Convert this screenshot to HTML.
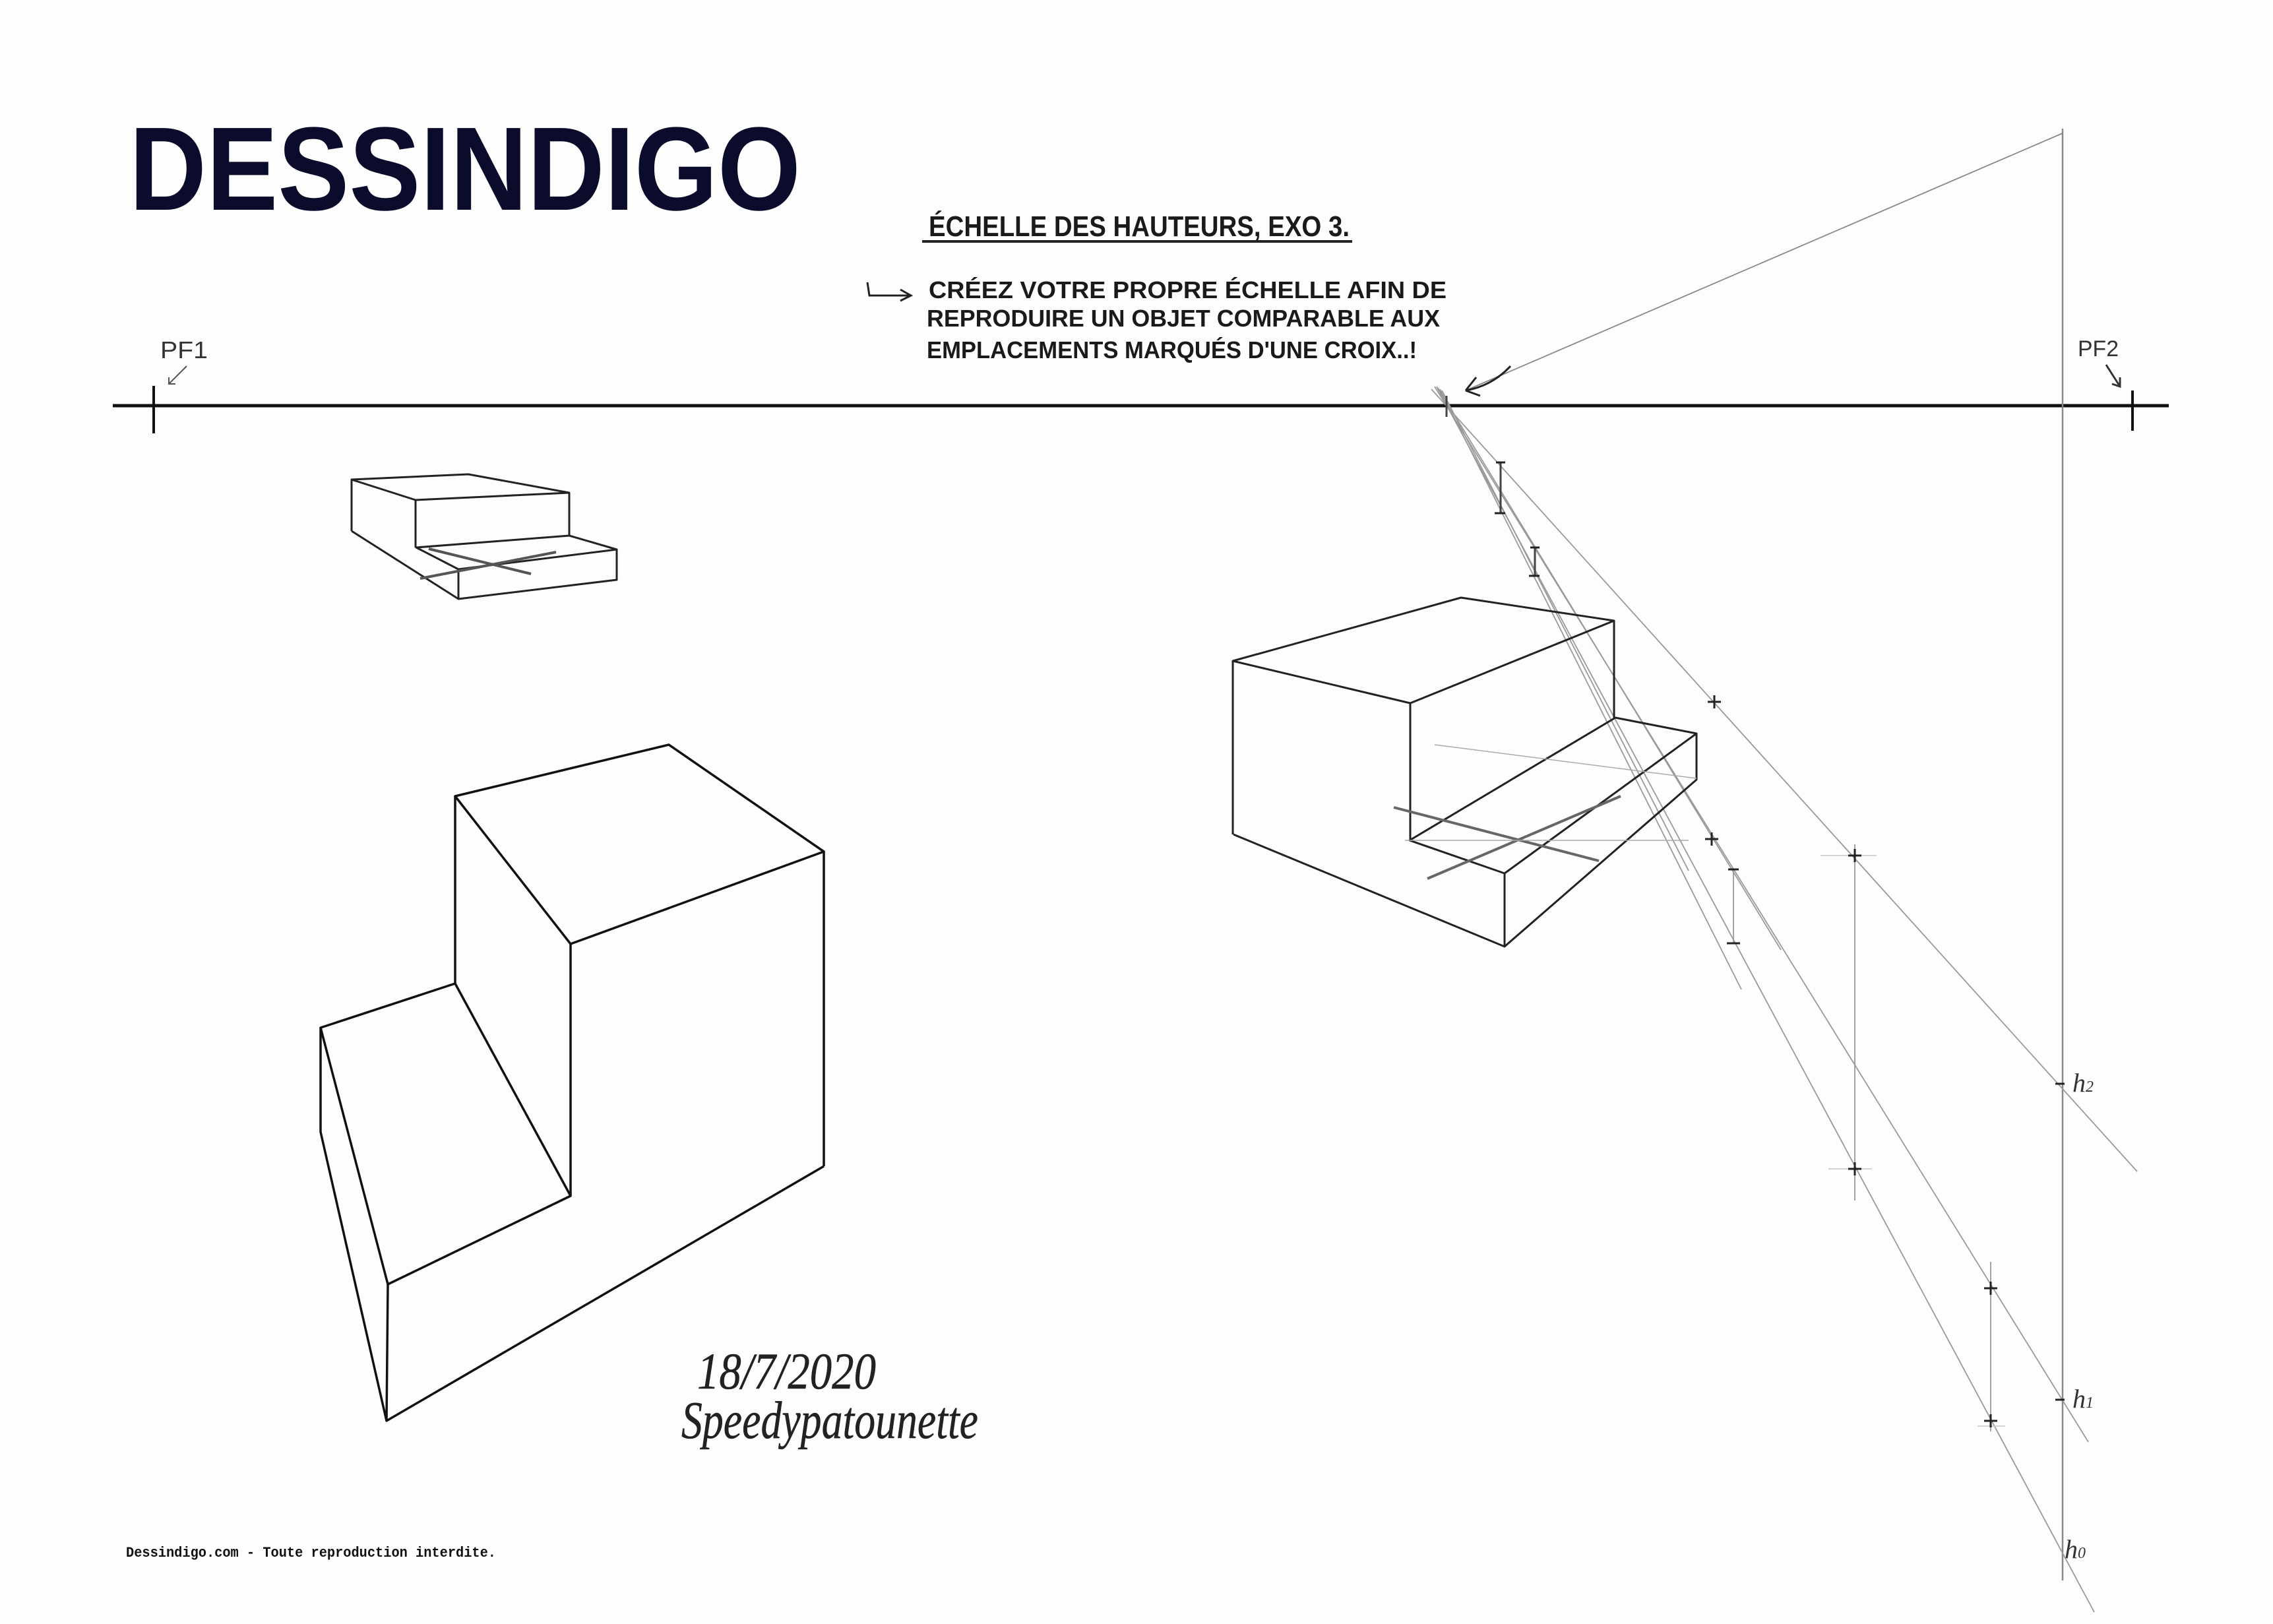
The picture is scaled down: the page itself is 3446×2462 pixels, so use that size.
<!DOCTYPE html>
<html><head><meta charset="utf-8"><style>
html,body{margin:0;padding:0;background:#fdfdfd;}
svg{display:block;}
.h{font-family:"Liberation Sans",sans-serif;fill:#1a1a1a;font-weight:bold;}
</style></head><body>
<svg width="3446" height="2462" viewBox="0 0 3446 2462" xmlns="http://www.w3.org/2000/svg">
<rect width="3446" height="2462" fill="#fdfdfd"/>
<text x="196" y="318" font-family="Liberation Sans, sans-serif" font-weight="bold" font-size="180" fill="#0b0b2b" textLength="1018" lengthAdjust="spacingAndGlyphs">DESSINDIGO</text>

<text class="h" x="1408" y="358" font-size="44" textLength="638" lengthAdjust="spacingAndGlyphs">ÉCHELLE DES HAUTEURS, EXO 3.</text>
<line x1="1398" y1="366" x2="2050" y2="366" stroke="#222" stroke-width="4"/>
<path d="M1315 428 L1318 448 L1380 448 M1365 439 L1381 448 L1365 456" fill="none" stroke="#222" stroke-width="3"/>
<text class="h" x="1408" y="452" font-size="36" textLength="785" lengthAdjust="spacingAndGlyphs">CRÉEZ VOTRE PROPRE ÉCHELLE AFIN DE</text>
<text class="h" x="1405" y="495" font-size="36" textLength="778" lengthAdjust="spacingAndGlyphs">REPRODUIRE UN OBJET COMPARABLE AUX</text>
<text class="h" x="1405" y="543" font-size="36" textLength="743" lengthAdjust="spacingAndGlyphs">EMPLACEMENTS MARQUÉS D'UNE CROIX..!</text>

<text x="243" y="543" font-family="Liberation Sans, sans-serif" font-size="36" textLength="72" lengthAdjust="spacingAndGlyphs" fill="#333">PF1</text>
<path d="M283 555 L256 582 M256 572 L256 582 L266 582" fill="none" stroke="#555" stroke-width="2"/>
<text x="3150" y="540" font-family="Liberation Sans, sans-serif" font-size="34" textLength="62" lengthAdjust="spacingAndGlyphs" fill="#333">PF2</text>
<path d="M3193 553 L3214 586 M3214 572 L3214 586 L3202 582" fill="none" stroke="#333" stroke-width="3"/>

<line x1="171" y1="615" x2="3288" y2="615" stroke="#111" stroke-width="5"/>
<line x1="233" y1="585" x2="233" y2="657" stroke="#111" stroke-width="4"/>
<line x1="3233" y1="592" x2="3233" y2="653" stroke="#111" stroke-width="4"/>

<line x1="3127" y1="195" x2="3127" y2="2396" stroke="#888" stroke-width="2.5"/>
<line x1="3127" y1="202" x2="2222" y2="592" stroke="#888" stroke-width="1.8"/>
<path d="M2290 555 Q2262 585 2222 592 M2222 592 L2238 572 M2222 592 L2244 600" fill="none" stroke="#222" stroke-width="3"/>

<g stroke="#999" stroke-width="1.8" fill="none">
<line x1="2170" y1="590" x2="3240" y2="1776"/>
<line x1="2175" y1="586" x2="3166" y2="2186"/>
<line x1="2178" y1="586" x2="3175" y2="2444"/>
<line x1="2180" y1="588" x2="2700" y2="1440"/>
<line x1="2183" y1="590" x2="2640" y2="1500"/>
<line x1="2186" y1="592" x2="2560" y2="1320"/>
<line x1="2193" y1="600" x2="2193" y2="632" stroke="#444" stroke-width="3"/>
<line x1="2812" y1="1280" x2="2812" y2="1820"/>
<line x1="3018" y1="1913" x2="3018" y2="2170"/>
<line x1="2628" y1="1317" x2="2628" y2="1430"/>
<line x1="2275" y1="701" x2="2275" y2="778" stroke="#444" stroke-width="3"/>
<line x1="2327" y1="830" x2="2327" y2="873" stroke="#444" stroke-width="3"/>
<line x1="2760" y1="1297" x2="2845" y2="1297" stroke="#ccc"/>
<line x1="2772" y1="1772" x2="2838" y2="1772" stroke="#ccc"/>
<line x1="2998" y1="2162" x2="3040" y2="2162" stroke="#ccc"/>
</g>
<g stroke="#222" stroke-width="3">
<path d="M2802 1297h20M2812 1287v20"/>
<path d="M2802 1772h20M2812 1762v20"/>
<path d="M3008 1953h20M3018 1943v20"/>
<path d="M3008 2154h20M3018 2144v20"/>
<path d="M2618 1430h20"/>
<path d="M2620 1318h16"/>
<path d="M2585 1272h20M2595 1262v20"/>
<path d="M2589 1064h20M2599 1054v20"/>
<path d="M2268 701h14M2266 778h16"/>
<path d="M2320 830h14M2318 873h16"/>
<path d="M3116 1643h14M3116 2122h14"/>
</g>
<text x="3142" y="1655" font-family="Liberation Serif, serif" font-style="italic" font-size="40" fill="#333">h<tspan font-size="24">2</tspan></text>
<text x="3142" y="2134" font-family="Liberation Serif, serif" font-style="italic" font-size="40" fill="#333">h<tspan font-size="24">1</tspan></text>
<text x="3130" y="2362" font-family="Liberation Serif, serif" font-style="italic" font-size="40" fill="#333">h<tspan font-size="24">0</tspan></text>

<g stroke="#222" stroke-width="3" fill="none" stroke-linejoin="round">
<path d="M533 727 L710 719 L863 747 L630 758 Z"/>
<path d="M533 727 V805 M630 758 V830 M863 747 V812"/>
<path d="M631 830 L863 812 L935 833 L695 863 Z"/>
<path d="M935 833 V879 L695 908 V863 M533 805 L695 908"/>
</g>
<g stroke="#555" stroke-width="4"><line x1="650" y1="832" x2="805" y2="870"/><line x1="637" y1="877" x2="843" y2="837"/></g>

<g stroke="#222" stroke-width="3" fill="none" stroke-linejoin="round">
<path d="M1869 1002 L2215 906 L2447 941 L2138 1066 Z"/>
<path d="M1869 1002 V1265 M2138 1066 V1274 M2447 941 V1088"/>
<path d="M2137 1274 L2449 1088 L2572 1112 L2281 1324 Z"/>
<path d="M2572 1112 V1182 L2281 1435 V1324 M1870 1265 L2281 1435"/>
</g>
<g stroke="#666" stroke-width="4"><line x1="2113" y1="1224" x2="2424" y2="1305"/><line x1="2164" y1="1332" x2="2457" y2="1207"/></g>
<g stroke="#aaa" stroke-width="1.5"><line x1="2175" y1="1129" x2="2572" y2="1180"/><line x1="2130" y1="1274" x2="2560" y2="1274"/></g>

<g stroke="#111" stroke-width="3.5" fill="none" stroke-linejoin="round">
<path d="M690 1207 L1014 1129 L1249 1291 L865 1431 Z"/>
<path d="M690 1207 V1491 M865 1431 V1813 M1249 1291 V1768"/>
<path d="M690 1491 L486 1558 L588 1947 L865 1813 Z"/>
<path d="M486 1558 V1716 L586 2154 L588 1947 M586 2154 L1249 1768"/>
</g>

<text x="1057" y="2105" font-family="Liberation Serif, serif" font-style="italic" font-size="78" fill="#222" stroke="#222" stroke-width="0.5" textLength="271" lengthAdjust="spacingAndGlyphs">18/7/2020</text>
<text x="1033" y="2180" font-family="Liberation Serif, serif" font-style="italic" font-size="80" fill="#222" stroke="#222" stroke-width="0.5" textLength="450" lengthAdjust="spacingAndGlyphs">Speedypatounette</text>

<text x="191" y="2360" font-family="Liberation Mono, monospace" font-weight="bold" font-size="22" fill="#111" textLength="561" lengthAdjust="spacingAndGlyphs">Dessindigo.com - Toute reproduction interdite.</text>
</svg>
</body></html>
